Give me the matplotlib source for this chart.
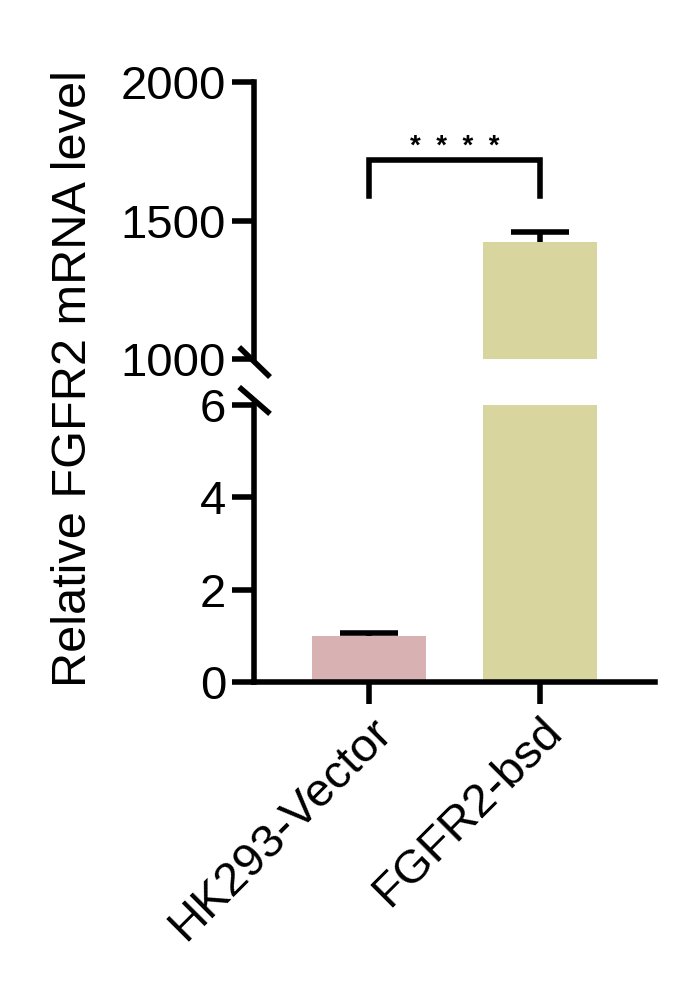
import numpy as np
import matplotlib.pyplot as plt

plt.rcParams['font.family'] = ['Liberation Sans', 'DejaVu Sans']

groups = ["HK293-Vector", "FGFR2-bsd"]
means = [1.0, 1424]
errs = [0.06, 33]
colors = ["#d8b1b3", "#d8d69e"]
low_ticks = [0, 2, 4, 6]
high_ticks = [1000, 1500, 2000]
stars = "*  *  *  *"

fig = plt.figure(figsize=(6.85, 9.91), dpi=100)
ax_hi = fig.add_axes([0.3708, 0.6377, 0.5854, 0.2795])
ax_lo = fig.add_axes([0.3708, 0.3118, 0.5854, 0.2795])

x = np.arange(len(groups))
lw = 4
fs = 34
bar_w = 0.667
cap_half = bar_w / 4

for ax in (ax_hi, ax_lo):
    ax.bar(x, means, width=bar_w, color=colors, zorder=1)
    tops = np.array(means) + np.array(errs)
    # upper error only: stem + cap
    ax.vlines(x, means, tops, color='black', lw=lw, zorder=2)
    ax.hlines(tops, x - cap_half, x + cap_half, color='black', lw=lw, zorder=2)
    ax.set_xlim(-0.6725, 1.6725)
    for s in ('top', 'right'):
        ax.spines[s].set_visible(False)
    ax.spines['left'].set_linewidth(lw)
    ax.spines['bottom'].set_linewidth(lw)
    ax.tick_params(axis='both', width=lw, length=16, labelsize=fs, pad=4)

ax_hi.set_ylim(1000, 2000)
ax_hi.set_yticks(high_ticks)
ax_hi.spines['bottom'].set_visible(False)
ax_hi.tick_params(axis='x', bottom=False, labelbottom=False)

ax_lo.set_ylim(0, 6)
ax_lo.set_yticks(low_ticks)
ax_lo.set_xticks(x)
ax_lo.set_xticklabels(groups, rotation=45, ha='right', rotation_mode='anchor')

# break marks
kw = dict(color='black', lw=lw, clip_on=False, solid_capstyle='butt')
ax_hi.plot([-0.037, 0.040], [0.043, -0.065], transform=ax_hi.transAxes, **kw)
ax_lo.plot([-0.037, 0.040], [1.065, 0.968], transform=ax_lo.transAxes, **kw)

# significance bracket
y_top, y_leg = 1718, 1588
ax_hi.plot([0, 0, 1, 1], [y_leg, y_top, y_top, y_leg], color='black', lw=lw,
           solid_joinstyle='miter', clip_on=False)
ax_hi.text(0.5, 1765, stars, ha='center', va='center', fontsize=20, fontweight='bold')

fig.text(0.107, 0.618, "Relative FGFR2 mRNA level", rotation=90, ha='center', va='center',
         fontsize=35)

fig.savefig("out.png", dpi=100)
